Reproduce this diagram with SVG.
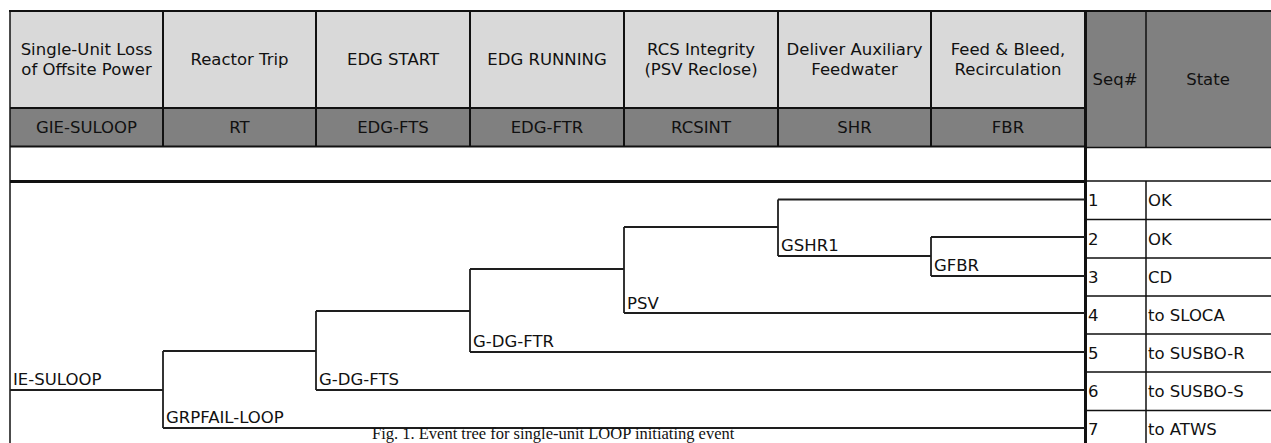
<svg xmlns="http://www.w3.org/2000/svg" width="1271" height="443" viewBox="0 0 1271 443">
<style>
.hl{fill:#d9d9d9}
.hd{fill:#808080}
.b{stroke:#111;fill:none}
.t{font-family:"DejaVu Sans",Verdana,sans-serif;font-size:16.5px;fill:#111}
.c{text-anchor:middle}
.br{stroke:#1e1e1e;stroke-width:1.8;fill:none}
.cap{font-family:"Liberation Serif","Times New Roman",serif;font-size:16.5px;fill:#111}
</style>
<rect x="0" y="0" width="1271" height="443" fill="#fff"/>
<!-- header backgrounds -->
<rect class="hl" x="10" y="11" width="1075" height="97"/>
<rect class="hd" x="10" y="108" width="1075" height="38"/>
<rect class="hd" x="1085" y="11" width="186" height="136"/>

<g id="header-giesuloop">
<text class="t c" x="86.5" y="55">Single-Unit Loss</text>
<text class="t c" x="86.5" y="75">of Offsite Power</text>
<text class="t c" x="86.5" y="133">GIE-SULOOP</text>
</g>
<g id="header-rt">
<text class="t c" x="239.5" y="65">Reactor Trip</text>
<text class="t c" x="239.5" y="133">RT</text>
</g>
<g id="header-edgfts">
<text class="t c" x="393" y="65">EDG START</text>
<text class="t c" x="393" y="133">EDG-FTS</text>
</g>
<g id="header-edgftr">
<text class="t c" x="547" y="65">EDG RUNNING</text>
<text class="t c" x="547" y="133">EDG-FTR</text>
</g>
<g id="header-rcsint">
<text class="t c" x="701" y="55">RCS Integrity</text>
<text class="t c" x="701" y="75">(PSV Reclose)</text>
<text class="t c" x="701" y="133">RCSINT</text>
</g>
<g id="header-shr">
<text class="t c" x="854.5" y="55">Deliver Auxiliary</text>
<text class="t c" x="854.5" y="75">Feedwater</text>
<text class="t c" x="854.5" y="133">SHR</text>
</g>
<g id="header-fbr">
<text class="t c" x="1008" y="55">Feed &amp; Bleed,</text>
<text class="t c" x="1008" y="75">Recirculation</text>
<text class="t c" x="1008" y="133">FBR</text>
</g>
<g id="header-seq">
<text class="t c" x="1115" y="85">Seq#</text>
</g>
<g id="header-state">
<text class="t c" x="1208" y="85">State</text>
</g>

<!-- table grid -->
<g id="grid">
<path class="b" stroke-width="2" d="M9 11H1271"/>
<path class="b" stroke-width="1.5" d="M10 10V443"/>
<path class="b" stroke-width="2" d="M10 108H1085M10 146.5H1085"/>
<path class="b" stroke-width="1.5" d="M1085 147.5H1271"/>
<path class="b" stroke-width="2" d="M163 11V146M316 11V146M470 11V146M624 11V146M778 11V146M931 11V146"/>
<path class="b" stroke-width="1.5" d="M1146 11V147.5M1146 181V443"/>
<path class="b" stroke-width="3" d="M10 181.5H1085"/>
<path class="b" stroke-width="1.5" d="M1085 181H1271M1085 219.5H1271M1085 258H1271M1085 296H1271M1085 334H1271M1085 372H1271M1085 410.5H1271"/>
<path class="b" stroke-width="3" d="M1085.5 10V443"/>
</g>

<!-- sequence rows -->
<g id="seq1"><text class="t" x="1088" y="206">1</text><text class="t" x="1148" y="206">OK</text></g>
<g id="seq2"><text class="t" x="1088" y="245">2</text><text class="t" x="1148" y="245">OK</text></g>
<g id="seq3"><text class="t" x="1088" y="283">3</text><text class="t" x="1148" y="283">CD</text></g>
<g id="seq4"><text class="t" x="1088" y="321">4</text><text class="t" x="1148" y="321">to SLOCA</text></g>
<g id="seq5"><text class="t" x="1088" y="359">5</text><text class="t" x="1148" y="359">to SUSBO-R</text></g>
<g id="seq6"><text class="t" x="1088" y="397">6</text><text class="t" x="1148" y="397">to SUSBO-S</text></g>
<g id="seq7"><text class="t" x="1088" y="435">7</text><text class="t" x="1148" y="435">to ATWS</text></g>

<!-- tree nodes -->
<g id="node-iesuloop"><text class="t" x="13" y="385">IE-SULOOP</text></g>
<g id="node-grpfail"><path class="br" d="M163 351V428"/><text class="t" x="166" y="423">GRPFAIL-LOOP</text></g>
<g id="node-gdgfts"><path class="br" d="M316 311V390"/><text class="t" x="319" y="385">G-DG-FTS</text></g>
<g id="node-gdgftr"><path class="br" d="M470 269V352"/><text class="t" x="473" y="347">G-DG-FTR</text></g>
<g id="node-psv"><path class="br" d="M624 227V313"/><text class="t" x="627" y="309">PSV</text></g>
<g id="node-gshr1"><path class="br" d="M778 199.5V256"/><text class="t" x="781" y="251">GSHR1</text></g>
<g id="node-gfbr"><path class="br" d="M931 237V276"/><text class="t" x="934" y="271">GFBR</text></g>

<!-- connectors -->
<g id="connectors">
<path class="br" d="M10 390H163"/>
<path class="br" d="M163 351H316"/>
<path class="br" d="M163 428H1085"/>
<path class="br" d="M316 311H470"/>
<path class="br" d="M316 390H1085"/>
<path class="br" d="M470 269H624"/>
<path class="br" d="M470 352H1085"/>
<path class="br" d="M624 227H778"/>
<path class="br" d="M624 313H1085"/>
<path class="br" d="M778 199.5H1085"/>
<path class="br" d="M778 256H931"/>
<path class="br" d="M931 237H1085"/>
<path class="br" d="M931 276H1085"/>
</g>

<text class="cap" x="372" y="439">Fig. 1. Event tree for single-unit LOOP initiating event</text>
</svg>
